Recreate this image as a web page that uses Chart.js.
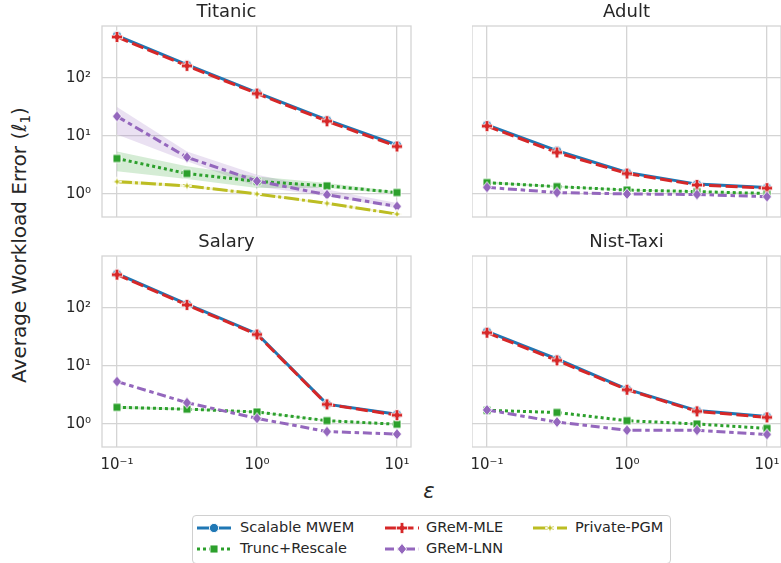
<!DOCTYPE html>
<html>
<head>
<meta charset="utf-8">
<script src="https://cdn.jsdelivr.net/npm/chart.js@4.4.0/dist/chart.umd.min.js"></script>
<style>
  body { margin: 0; background: #fff; }
  #wrap { position: relative; width: 781px; height: 563px; overflow: hidden; font-family: "DejaVu Sans", sans-serif; color: #262626; }
  #wrap canvas { position: absolute; }
  .ylab { position: absolute; left: 20px; top: 245px; transform: translate(-50%, -50%) rotate(-90deg); white-space: nowrap; font-size: 20px; }
  .ylab sub { font-size: 13.5px; vertical-align: -4px; }
  .xlab { position: absolute; left: 429px; top: 491px; transform: translate(-50%, -50%); font-size: 21px; font-style: italic; }
  #legend { position: absolute; left: 192px; top: 515px; width: 477px; height: 47px; border: 1px solid #d0d0d0; border-radius: 4px; background: #fff; }
  .item { position: absolute; font-size: 14.5px; line-height: 17px; white-space: nowrap; }
  .item canvas { position: absolute; }
</style>
</head>
<body>
<div id="wrap">
  <div class="ylab">Average Workload Error (<i>ℓ</i><sub>1</sub>)</div>
  <div class="xlab">ε</div>
  <div id="legend"></div>
</div>
<script>
// x values (epsilon) and axis ticks
const epsilons = [0.1, 0.316, 1, 3.16, 10];
const xTicks = [0.1, 1, 10];
const xTickLabels = ["10⁻¹", "10⁰", "10¹"];
const yTicks = [1, 10, 100];
const yTickLabels = ["10⁰", "10¹", "10²"];
const methods = ["Scalable MWEM", "Trunc+Rescale", "GReM-MLE", "GReM-LNN", "Private-PGM"];

// Titanic
const titanicMwem = [540, 170, 56, 19, 7.0];
const titanicTrunc = [4.1, 2.25, 1.65, 1.38, 1.06];
const titanicMle = [510, 162, 54, 18, 6.6];
const titanicLnn = [21.8, 4.3, 1.67, 0.97, 0.61];
const titanicPgm = [1.63, 1.38, 1.0, 0.69, 0.45];
const titanicTruncLo = [2.46, 1.82, 1.27, 1.27, 1.0];
const titanicTruncHi = [5.4, 3.0, 2.0, 1.55, 1.1];
const titanicLnnLo = [10.6, 3.66, 1.35, 0.91, 0.57];
const titanicLnnHi = [31.8, 5.4, 2.15, 1.19, 0.7];
const titanicPgmLo = [1.5, 1.3, 0.96, 0.66, 0.43];
const titanicPgmHi = [1.76, 1.46, 1.04, 0.72, 0.47];

// Adult
const adultMwem = [15.6, 5.6, 2.35, 1.48, 1.29];
const adultTrunc = [1.57, 1.34, 1.17, 1.1, 1.02];
const adultMle = [14.8, 5.2, 2.25, 1.43, 1.26];
const adultLnn = [1.3, 1.06, 1.0, 0.98, 0.9];
const adultTruncLo = [1.5, 1.3, 1.15, 1.08, 1.0];
const adultTruncHi = [1.66, 1.38, 1.19, 1.12, 1.04];

// Salary
const salaryMwem = [390, 117, 36, 2.2, 1.47];
const salaryTrunc = [1.94, 1.8, 1.61, 1.14, 0.99];
const salaryMle = [376, 113, 35, 2.18, 1.42];
const salaryLnn = [5.4, 2.33, 1.25, 0.74, 0.67];
const salaryTruncLo = [1.82, 1.74, 1.57, 1.12, 0.97];
const salaryTruncHi = [2.06, 1.86, 1.65, 1.16, 1.01];

// Nist-Taxi
const taxiMwem = [39.5, 13.2, 4.0, 1.7, 1.35];
const taxiTrunc = [1.72, 1.58, 1.14, 1.0, 0.84];
const taxiMle = [37.5, 12.5, 3.9, 1.65, 1.3];
const taxiLnn = [1.75, 1.08, 0.78, 0.78, 0.66];

const FONT = "DejaVu Sans";
const TEXT = "#262626";
const GRID = "#d4d4d4";

// look of each method (matplotlib tab10 + seaborn dashes, lw ~3)
const looks = {
  "Scalable MWEM": { color: "#1f77b4", fill: "rgba(31,119,180,0.2)", dash: [], marker: "circle", order: 5 },
  "Trunc+Rescale": { color: "#2ca02c", fill: "rgba(44,160,44,0.2)", dash: [3, 3], marker: "square", order: 4 },
  "GReM-MLE": { color: "#d62728", fill: "rgba(214,39,40,0.2)", dash: [12, 4.5], marker: "plus", order: 3 },
  "GReM-LNN": { color: "#9467bd", fill: "rgba(148,103,189,0.2)", dash: [9, 3.75, 4.5, 3.75], marker: "diamond", order: 2 },
  "Private-PGM": { color: "#bcbd22", fill: "rgba(188,189,34,0.2)", dash: [15, 3, 3, 3], marker: "star", order: 1 },
};

function makeMarker(shape, color) {
  const c = document.createElement("canvas");
  c.width = 14; c.height = 14;
  const g = c.getContext("2d");
  g.translate(7, 7);
  g.beginPath();
  if (shape === "circle") {
    g.arc(0, 0, 4.6, 0, Math.PI * 2);
  } else if (shape === "square") {
    g.rect(-4, -4, 8, 8);
  } else if (shape === "diamond") {
    g.moveTo(0, -5.6); g.lineTo(4.6, 0); g.lineTo(0, 5.6); g.lineTo(-4.6, 0); g.closePath();
  } else if (shape === "plus") {
    const a = 1.9, b = 5.6;
    g.moveTo(-a, -b); g.lineTo(a, -b); g.lineTo(a, -a); g.lineTo(b, -a); g.lineTo(b, a); g.lineTo(a, a);
    g.lineTo(a, b); g.lineTo(-a, b); g.lineTo(-a, a); g.lineTo(-b, a); g.lineTo(-b, -a); g.lineTo(-a, -a); g.closePath();
  } else if (shape === "star") {
    const a = 1.2, b = 5;
    g.moveTo(0, -b); g.lineTo(a, -a); g.lineTo(b, 0); g.lineTo(a, a); g.lineTo(0, b); g.lineTo(-a, a); g.lineTo(-b, 0); g.lineTo(-a, -a); g.closePath();
  }
  g.fillStyle = color; g.fill();
  g.strokeStyle = "#fff"; g.lineWidth = 0.9; g.stroke();
  return c;
}
for (const m of methods) looks[m].img = makeMarker(looks[m].marker, looks[m].color);

const panels = [
  { title: "Titanic", left: 42, top: 0, w: 429, h: 239, padRight: 60, yw: 60, xh: 22, showY: true, showX: false,
    series: { "Scalable MWEM": titanicMwem, "Trunc+Rescale": titanicTrunc, "GReM-MLE": titanicMle, "GReM-LNN": titanicLnn, "Private-PGM": titanicPgm },
    bands: [["Trunc+Rescale", titanicTruncLo, titanicTruncHi], ["GReM-LNN", titanicLnnLo, titanicLnnHi], ["Private-PGM", titanicPgmLo, titanicPgmHi]] },
  { title: "Adult", left: 472, top: 0, w: 309, h: 239, padRight: 0, yw: 0, xh: 22, showY: false, showX: false,
    series: { "Scalable MWEM": adultMwem, "Trunc+Rescale": adultTrunc, "GReM-MLE": adultMle, "GReM-LNN": adultLnn },
    bands: [["Trunc+Rescale", adultTruncLo, adultTruncHi]] },
  { title: "Salary", left: 42, top: 230, w: 429, h: 247, padRight: 60, yw: 60, xh: 30, showY: true, showX: true,
    series: { "Scalable MWEM": salaryMwem, "Trunc+Rescale": salaryTrunc, "GReM-MLE": salaryMle, "GReM-LNN": salaryLnn },
    bands: [["Trunc+Rescale", salaryTruncLo, salaryTruncHi]] },
  { title: "Nist-Taxi", left: 472, top: 230, w: 309, h: 247, padRight: 0, yw: 0, xh: 30, showY: false, showX: true,
    series: { "Scalable MWEM": taxiMwem, "Trunc+Rescale": taxiTrunc, "GReM-MLE": taxiMle, "GReM-LNN": taxiLnn },
    bands: [] },
];

// draws the light grey box around each plot area
const frame = {
  id: "frame",
  beforeDatasetsDraw(chart) {
    const a = chart.chartArea, g = chart.ctx;
    g.save();
    g.strokeStyle = GRID; g.lineWidth = 1.3;
    g.strokeRect(a.left, a.top, a.right - a.left, a.bottom - a.top);
    g.restore();
  },
};

// keep the plot area exactly where the layout says: no extra room for edge labels
function noPad(s) {
  s.paddingLeft = 0; s.paddingRight = 0; s.paddingTop = 0; s.paddingBottom = 0;
}

const pts = (vals) => epsilons.map((x, i) => ({ x: x, y: vals[i] }));

function makeChart(p) {
  const canvas = document.createElement("canvas");
  canvas.width = p.w; canvas.height = p.h;
  canvas.style.left = p.left + "px"; canvas.style.top = p.top + "px";
  document.getElementById("wrap").appendChild(canvas);

  const datasets = [];
  for (const [name, lo, hi] of p.bands) {
    datasets.push({ data: pts(hi), fill: "+1", backgroundColor: looks[name].fill, borderWidth: 0, pointRadius: 0, order: 20 });
    datasets.push({ data: pts(lo), fill: false, borderWidth: 0, pointRadius: 0, order: 20 });
  }
  for (const name of methods) {
    if (!p.series[name]) continue;
    const l = looks[name];
    datasets.push({
      label: name, data: pts(p.series[name]), order: l.order,
      borderColor: l.color, borderWidth: 3, borderDash: l.dash, fill: false, tension: 0,
      pointStyle: l.img, pointRadius: 4,
    });
  }

  new Chart(canvas, {
    type: "line",
    data: { datasets },
    options: {
      responsive: false, animation: false, events: [],
      layout: { autoPadding: false, padding: { right: p.padRight } },
      plugins: {
        legend: { display: false }, tooltip: { enabled: false },
        title: { display: true, text: p.title, color: TEXT, font: { family: FONT, size: 18, weight: "normal", lineHeight: 1.2 }, padding: { top: 1.5, bottom: 2.9 } },
      },
      scales: {
        x: {
          type: "logarithmic", min: Math.pow(10, -1.107), max: Math.pow(10, 1.1),
          afterBuildTicks: (s) => { s.ticks = xTicks.map((v) => ({ value: v })); },
          afterFit: (s) => { s.height = p.xh; noPad(s); },
          ticks: { display: p.showX, autoSkip: false, maxRotation: 0, padding: 9, color: TEXT,
            font: { family: FONT, size: 15 }, callback: (v, i) => xTickLabels[i] },
          grid: { color: GRID, lineWidth: 1.3, drawTicks: false },
          border: { display: false },
        },
        y: {
          type: "logarithmic", min: Math.pow(10, -0.397), max: Math.pow(10, 2.897),
          afterBuildTicks: (s) => { s.ticks = yTicks.map((v) => ({ value: v })); },
          afterFit: (s) => { s.width = p.yw; noPad(s); },
          ticks: { display: p.showY, autoSkip: false, padding: 11, color: TEXT,
            font: { family: FONT, size: 15 }, callback: (v, i) => yTickLabels[i] },
          grid: { color: GRID, lineWidth: 1.3, drawTicks: false },
          border: { display: false },
        },
      },
    },
    plugins: [frame],
  });
}
panels.forEach(makeChart);

// shared legend, filled column by column like matplotlib (ncol=3)
const legend = document.getElementById("legend");
const cols = [[4, 47], [192, 233], [340, 382]];
methods.forEach((name, i) => {
  const col = cols[Math.floor(i / 2)], row = i % 2;
  const l = looks[name];
  const item = document.createElement("div");
  item.className = "item";
  item.style.left = col[1] + "px";
  item.style.top = (3 + row * 21) + "px";
  item.textContent = name;
  const h = document.createElement("canvas");
  h.width = 34; h.height = 14;
  h.style.left = (col[0] - col[1]) + "px"; h.style.top = "2px";
  const g = h.getContext("2d");
  g.strokeStyle = l.color; g.lineWidth = 3; g.setLineDash(l.dash);
  g.beginPath(); g.moveTo(0, 7); g.lineTo(34, 7); g.stroke();
  g.drawImage(l.img, 10, 0);
  item.appendChild(h);
  legend.appendChild(item);
});
</script>
</body>
</html>
